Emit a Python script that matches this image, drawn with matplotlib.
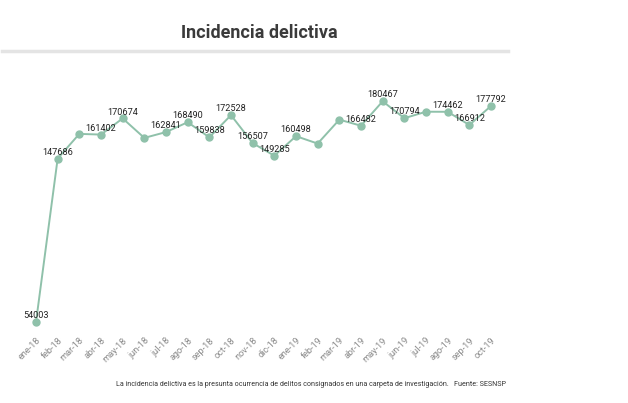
import matplotlib
matplotlib.use("Agg")
import matplotlib.pyplot as plt
from matplotlib.lines import Line2D

plt.rcParams["font.family"] = ["Roboto", "DejaVu Sans"]

months = ["ene-18", "feb-18", "mar-18", "abr-18", "may-18", "jun-18", "jul-18",
          "ago-18", "sep-18", "oct-18", "nov-18", "dic-18", "ene-19", "feb-19",
          "mar-19", "abr-19", "may-19", "jun-19", "jul-19", "ago-19", "sep-19",
          "oct-19"]
values = [54003, 147686, 161800, 161402, 170674, 159500, 162841, 168490,
          159838, 172528, 156507, 149285, 160498, 156250, 169950, 166482,
          180467, 170794, 174500, 174462, 166912, 177792]
# months whose value is printed on the chart
labeled = [True, True, False, True, True, False, True, True, True, True, True,
           True, True, False, False, True, True, True, False, True, True, True]

W, H = 628, 403
fig = plt.figure(figsize=(W / 100, H / 100), dpi=100)

# plot area placed so points land where they are in the reference
left, right = 36 / W, 491 / W
bottom, top = 1 - 329 / H, 1 - 93.4 / H
ax = fig.add_axes([left, bottom, right - left, top - bottom])

col = "#8fc1aa"
x = list(range(len(months)))
ax.plot(x, values, color=col, lw=1.4, marker="o", ms=5, mfc=col, mec=col,
        clip_on=False, zorder=3)

for xi, v, show in zip(x, values, labeled):
    if show:
        ax.annotate(str(v), (xi, v), xytext=(0, 4.6), textcoords="offset points",
                    ha="center", va="center", fontsize=6.6, color="#222222",
                    zorder=4)

ax.set_xlim(0, len(months) - 1)
ax.set_ylim(50000, 185000)
ax.set_xticks(x)
ax.set_xticklabels(months, rotation=45, ha="right", rotation_mode="anchor",
                   fontsize=6.6, color="#8a8a8a")
ax.tick_params(axis="x", length=0, pad=5)
ax.set_yticks([])
for s in ax.spines.values():
    s.set_visible(False)

fig.text(259 / W, 1 - 33 / H, "Incidencia delictiva", ha="center", va="center",
         fontsize=13, fontweight="bold", color="#3a3a3a")
fig.add_artist(Line2D([2 / W, 508 / W], [1 - 51 / H, 1 - 51 / H],
                      color="#e4e4e4", lw=2.5, transform=fig.transFigure))

fig.text(311 / W, 1 - 385 / H,
         "La incidencia delictiva es la presunta ocurrencia de delitos consignados "
         "en una carpeta de investigación.   Fuente: SESNSP",
         ha="center", va="center", fontsize=5.1, color="#333333")

fig.savefig("out.png", dpi=100, facecolor="white")
